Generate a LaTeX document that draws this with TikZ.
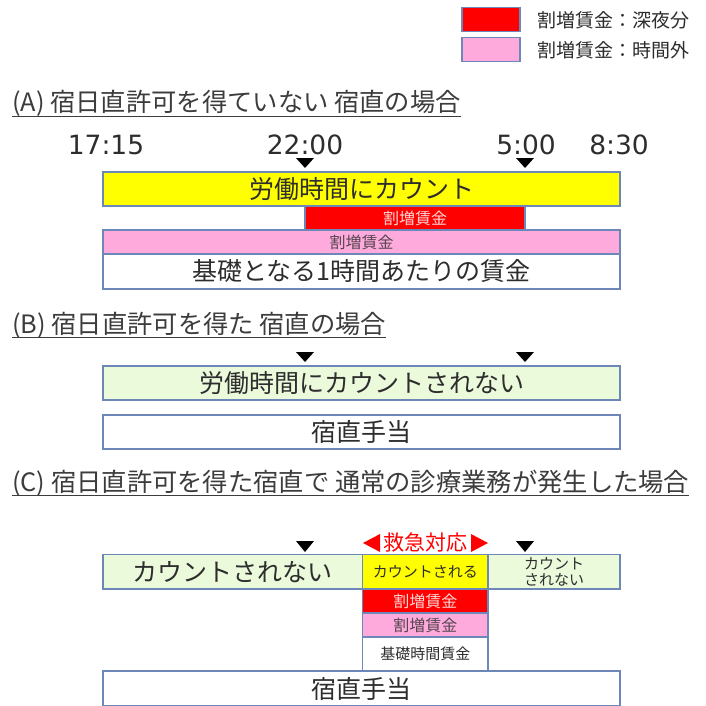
\documentclass[tikz,border=0pt]{standalone}
\usepackage{fontspec}
\setmainfont{Noto Sans CJK JP}
\newfontfamily\digitfont{DejaVu Sans}
\definecolor{bord}{RGB}{110,135,185}
\definecolor{txt}{RGB}{45,45,45}
\definecolor{ttl}{RGB}{60,60,60}
\definecolor{yel}{RGB}{255,255,0}
\definecolor{rd}{RGB}{255,0,0}
\definecolor{pk}{RGB}{255,170,220}
\definecolor{gr}{RGB}{236,250,220}
\definecolor{rdtxt}{RGB}{255,215,215}
\definecolor{pktxt}{RGB}{85,70,80}
\begin{document}
\begin{tikzpicture}[x=1pt,y=-1pt,
  box/.style={draw=bord, line width=1.2pt, inner sep=0pt, text=txt, anchor=center},
  big/.style={font=\fontsize{25}{25}\selectfont},
  small/.style={font=\fontsize{15}{16}\selectfont},
  mid/.style={font=\fontsize{16}{16}\selectfont},
  title/.style={font=\fontsize{25.3}{26}\selectfont, text=ttl, inner sep=0pt, anchor=base west},
  ulin/.style={draw=ttl, line width=1.3pt},
  timel/.style={font=\digitfont\fontsize{26.5}{27}\selectfont, text=txt, inner sep=0pt},
  legtext/.style={font=\fontsize{19}{19}\selectfont, text=txt, inner sep=0pt, anchor=west},
  trimark/.style={fill=black}]
\useasboundingbox (0,0) rectangle (705,706);

% legend
\node[box, fill=rd, minimum width=58, minimum height=24] (lr) at (491,19.5) {};
\node[box, fill=pk, minimum width=58, minimum height=24] (lp) at (491,49.5) {};
\node[legtext] (lrt) at (537,20) {割増賃金：深夜分};
\node[legtext] (lpt) at (537,50) {割増賃金：時間外};

% (A)
\node[title] (tA) at (12,112) {(A) 宿日直許可を得ていない 宿直の場合};
\draw[ulin] ([yshift=-4.5pt]tA.base west) -- ([yshift=-4.5pt]tA.base east);
\node[timel] (t1) at (106,145) {17:15};
\node[timel] (t2) at (305,145) {22:00};
\node[timel] (t3) at (526,145) {5:00};
\node[timel] (t4) at (619,145) {8:30};
\fill[trimark] (305,158) ++(-9,0) -- ++(18,0) -- ++(-9,10) -- cycle;
\fill[trimark] (525,158) ++(-9,0) -- ++(18,0) -- ++(-9,10) -- cycle;
\node[box, fill=yel, big, minimum width=517, minimum height=34] (a1) at (361.5,189) {労働時間にカウント};
\node[box, fill=rd, mid, text=rdtxt, minimum width=220, minimum height=24] (a2) at (415,218) {割増賃金};
\node[box, fill=pk, mid, text=pktxt, minimum width=517, minimum height=24] (a3) at (361.5,242) {割増賃金};
\node[box, fill=white, big, minimum width=517, minimum height=35] (a4) at (361.5,271.5) {基礎となる1時間あたりの賃金};

% (B)
\node[title] (tB) at (12,333) {(B) 宿日直許可を得た 宿直の場合};
\draw[ulin] ([yshift=-4.5pt]tB.base west) -- ([yshift=-4.5pt]tB.base east);
\fill[trimark] (305,352) ++(-9,0) -- ++(18,0) -- ++(-9,10) -- cycle;
\fill[trimark] (525,352) ++(-9,0) -- ++(18,0) -- ++(-9,10) -- cycle;
\node[box, fill=gr, big, minimum width=517, minimum height=34] (b1) at (361.5,383) {労働時間にカウントされない};
\node[box, fill=white, big, minimum width=517, minimum height=34] (b2) at (361.5,432) {宿直手当};

% (C)
\node[title] (tC) at (12,491) {(C) 宿日直許可を得た宿直で 通常の診療業務が発生した場合};
\draw[ulin] ([yshift=-4.5pt]tC.base west) -- ([yshift=-4.5pt]tC.base east);
\fill[trimark] (305,541) ++(-9,0) -- ++(18,0) -- ++(-9,11) -- cycle;
\fill[trimark] (525,541) ++(-9,0) -- ++(18,0) -- ++(-9,11) -- cycle;
\node[font=\fontsize{21}{21}\selectfont, text=rd, inner sep=0pt] (kq) at (425.5,543) {救急対応};
\fill[rd] (380,534) -- (380,552) -- (363,543) -- cycle;
\fill[rd] (471,534) -- (471,552) -- (488,543) -- cycle;
\node[box, fill=gr, big, minimum width=259.5, minimum height=34.5] (c1) at (232.75,571.75) {カウントされない};
\node[box, fill=yel, small, minimum width=125.5, minimum height=34.5] (c2) at (425.25,571.75) {カウントされる};
\node[box, fill=gr, small, align=center, minimum width=132, minimum height=34.5] (c3) at (554,571.75) {カウント\\されない};
\node[box, fill=rd, mid, text=rdtxt, minimum width=125.5, minimum height=24] (c4) at (425.25,601) {割増賃金};
\node[box, fill=pk, mid, text=pktxt, minimum width=125.5, minimum height=24] (c5) at (425.25,625) {割増賃金};
\node[box, fill=white, small, minimum width=125.5, minimum height=34] (c6) at (425.25,654) {基礎時間賃金};
\node[box, fill=white, big, minimum width=517, minimum height=35] (c7) at (361.5,688.5) {宿直手当};
\end{tikzpicture}
\end{document}
